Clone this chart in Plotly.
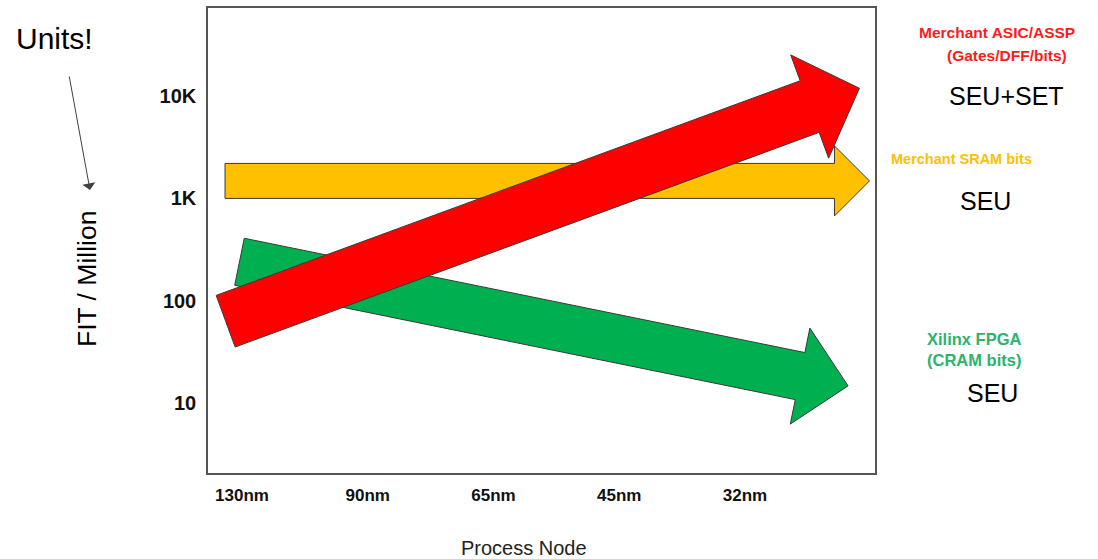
import math
import plotly.graph_objects as go

# ---- data -------------------------------------------------------------
nodes = ["130nm", "90nm", "65nm", "45nm", "32nm"]
node_pos = [0, 1, 2, 3, 4]
fit_ticks = [10, 100, 1000, 10000]
fit_tick_text = ["10", "100", "1K", "10K"]

# trend arrows: tail and tip as (process-node position, FIT / Million)
asic_x = [-0.13, 4.91]
asic_fit = [63, 11900]
sram_x = [-0.135, 4.99]
sram_fit = [1480, 1480]
fpga_x = [-0.02, 4.82]
fpga_fit = [240, 14.7]

# ---- page geometry ----------------------------------------------------
W, H = 1098, 559
ML, MR, MT, MB = 208, 223, 8, 86
PW, PH = W - ML - MR, H - MT - MB
X_RANGE = [-0.2704, 5.034]
Y_RANGE = [0.316, 4.860]   # log10 units

FONT = "Arial, 'Liberation Sans', sans-serif"


def to_px(x, y):
    px = ML + (x - X_RANGE[0]) / (X_RANGE[1] - X_RANGE[0]) * PW
    py = MT + PH - (math.log10(y) - Y_RANGE[0]) / (Y_RANGE[1] - Y_RANGE[0]) * PH
    return px, py


def from_px(px, py):
    x = X_RANGE[0] + (px - ML) / PW * (X_RANGE[1] - X_RANGE[0])
    ly = Y_RANGE[0] + (MT + PH - py) / PH * (Y_RANGE[1] - Y_RANGE[0])
    return x, 10 ** ly


def block_arrow(xs, ys, shaft, head, head_len):
    """Outline of a block arrow from tail to tip, widths in screen pixels."""
    x0, y0 = to_px(xs[0], ys[0])
    x1, y1 = to_px(xs[1], ys[1])
    dx, dy = x1 - x0, y1 - y0
    d = math.hypot(dx, dy)
    ux, uy = dx / d, dy / d
    nx, ny = -uy, ux
    bx, by = x1 - ux * head_len, y1 - uy * head_len
    pts = [
        (x0 + nx * shaft, y0 + ny * shaft),
        (bx + nx * shaft, by + ny * shaft),
        (bx + nx * head, by + ny * head),
        (x1, y1),
        (bx - nx * head, by - ny * head),
        (bx - nx * shaft, by - ny * shaft),
        (x0 - nx * shaft, y0 - ny * shaft),
        (x0 + nx * shaft, y0 + ny * shaft),
    ]
    conv = [from_px(px, py) for px, py in pts]
    return [c[0] for c in conv], [c[1] for c in conv]


fig = go.Figure()

arrows = [
    ("Xilinx FPGA", fpga_x, fpga_fit, "#00B050", 24, 49, 49),
    ("Merchant SRAM", sram_x, sram_fit, "#FFC000", 17.5, 35, 35),
    ("Merchant ASIC/ASSP", asic_x, asic_fit, "#FF0000", 27.5, 55, 53),
]
for name, xs, ys, color, shaft, head, hl in arrows:
    px, py = block_arrow(xs, ys, shaft, head, hl)
    fig.add_trace(go.Scatter(
        x=px, y=py, mode="lines", fill="toself", fillcolor=color,
        line=dict(color="#3a3a3a", width=1), name=name,
        hoverinfo="skip", showlegend=False,
    ))


def paper(px, py):
    return (px - ML) / PW, (MT + PH - py) / PH


annotations = []


def label(px, py, text, size, color="#000000", bold=False, angle=0):
    xp, yp = paper(px, py)
    annotations.append(dict(
        x=xp, y=yp, xref="paper", yref="paper", text=f"<b>{text}</b>" if bold else text,
        showarrow=False, textangle=angle, xanchor="center", yanchor="middle",
        font=dict(family=FONT, size=size, color=color),
    ))


label(54, 38, "Units!", 30)
label(87, 279, "FIT / Million", 26.5, angle=-90)
label(524, 548, "Process Node", 20, color="#222222")

label(997, 33, "Merchant ASIC/ASSP", 15.5, color="#FF1A1A", bold=True)
label(1007, 55, "(Gates/DFF/bits)", 15.5, color="#FF1A1A", bold=True)
label(1006, 96, "SEU+SET", 25)

label(961, 159, "Merchant SRAM bits", 14.5, color="#FFC000", bold=True)
label(985, 201, "SEU", 25)

label(974, 339, "Xilinx FPGA", 16.5, color="#2DB36B", bold=True)
label(974, 360, "(CRAM bits)", 16.5, color="#2DB36B", bold=True)
label(992, 393, "SEU", 25)

# pointer from the "Units!" note down to the axis title
tip = paper(90, 190)
annotations.append(dict(
    x=tip[0], y=tip[1], xref="paper", yref="paper", text="",
    showarrow=True, ax=69 - 90, ay=75 - 190, axref="pixel", ayref="pixel",
    arrowhead=1, arrowsize=2.2, arrowwidth=1, arrowcolor="#404040",
))

fig.update_layout(
    width=W, height=H,
    margin=dict(l=ML, r=MR, t=MT, b=MB, autoexpand=False),
    paper_bgcolor="white", plot_bgcolor="white",
    annotations=annotations,
    xaxis=dict(
        range=X_RANGE, tickmode="array", tickvals=node_pos,
        ticktext=[f"<b>{n}</b>" for n in nodes],
        showgrid=False, zeroline=False, ticks="", ticklabelstandoff=6,
        showline=True, mirror=True, linecolor="#555555", linewidth=1.5,
        tickfont=dict(family=FONT, size=17, color="#111111"),
    ),
    yaxis=dict(
        type="log", range=Y_RANGE, tickmode="array", tickvals=fit_ticks,
        ticktext=[f"<b>{t}</b>" for t in fit_tick_text],
        showgrid=False, zeroline=False, ticks="", ticklabelstandoff=6,
        showline=True, mirror=True, linecolor="#555555", linewidth=1.5,
        tickfont=dict(family=FONT, size=20, color="#111111"),
    ),
)

fig.write_html("out.html")
